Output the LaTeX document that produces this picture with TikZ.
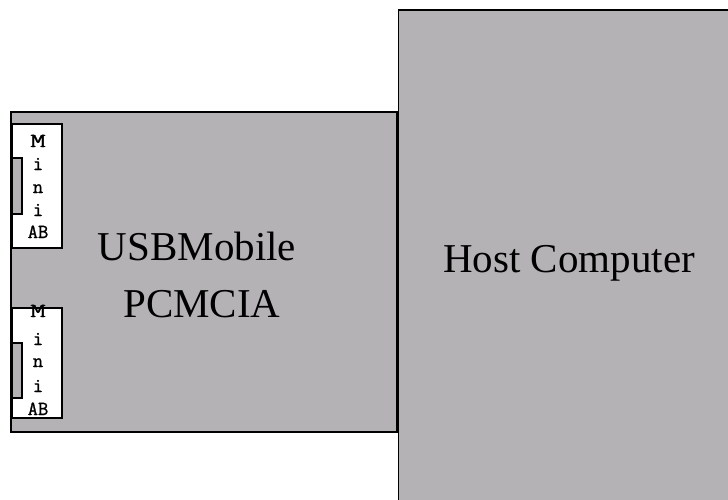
\documentclass[tikz,border=0pt]{standalone}
\usepackage{graphicx}
\usepackage{fontspec}
\setmainfont{Liberation Serif}
\newfontfamily\minifont[FakeBold=1.2]{Latin Modern Mono}
\definecolor{boxgrey}{RGB}{180,178,181}
\newcommand{\wideM}{\scalebox{1.5}[1]{M}}
\begin{document}
\begin{tikzpicture}[x=1pt,y=-1pt,
  greybox/.style={draw=black,line width=1.5pt,fill=boxgrey,inner sep=0pt,outer sep=0pt,anchor=north west},
  minibox/.style={draw=black,line width=1.3pt,fill=white,inner sep=0pt,outer sep=0pt,anchor=north west},
  slotbox/.style={draw=black,line width=1.1pt,fill=boxgrey,inner sep=0pt,outer sep=0pt,anchor=north west},
  bigtext/.style={font=\fontsize{41}{48}\selectfont,anchor=base,inner sep=0pt},
  minitext/.style={font=\minifont\fontsize{20}{22}\selectfont,anchor=base,inner sep=0pt}]
\useasboundingbox (0,0) rectangle (728,500);
\node[greybox,minimum width=386pt,minimum height=320pt] (pcm) at (11,112) {};
\node[greybox,minimum width=340pt,minimum height=500pt] (host) at (398.5,10) {};
\node[minibox,minimum width=50pt,minimum height=124pt] (minia) at (12,124) {};
\node[minibox,minimum width=50pt,minimum height=110pt] (minib) at (12,308) {};
\node[slotbox,minimum width=10pt,minimum height=56pt] (slota) at (12,158) {};
\node[slotbox,minimum width=10pt,minimum height=55pt] (slotb) at (12,343) {};
\node[bigtext] (usb) at (197,260) {USBMobile};
\node[bigtext] (pcmcia) at (202,317) {PCMCIA};
\node[bigtext] (hostlbl) at (569,272) {Host Computer};
\foreach \t/\y [count=\i] in {\wideM/147,i/170,n/193,i/216,AB/238}
  \node[minitext] (ma\i) at (38,\y) {\t};
\foreach \t/\y [count=\i] in {\wideM/317,i/345,n/367,i/392,AB/415}
  \node[minitext] (mb\i) at (38,\y) {\t};
\end{tikzpicture}
\end{document}
